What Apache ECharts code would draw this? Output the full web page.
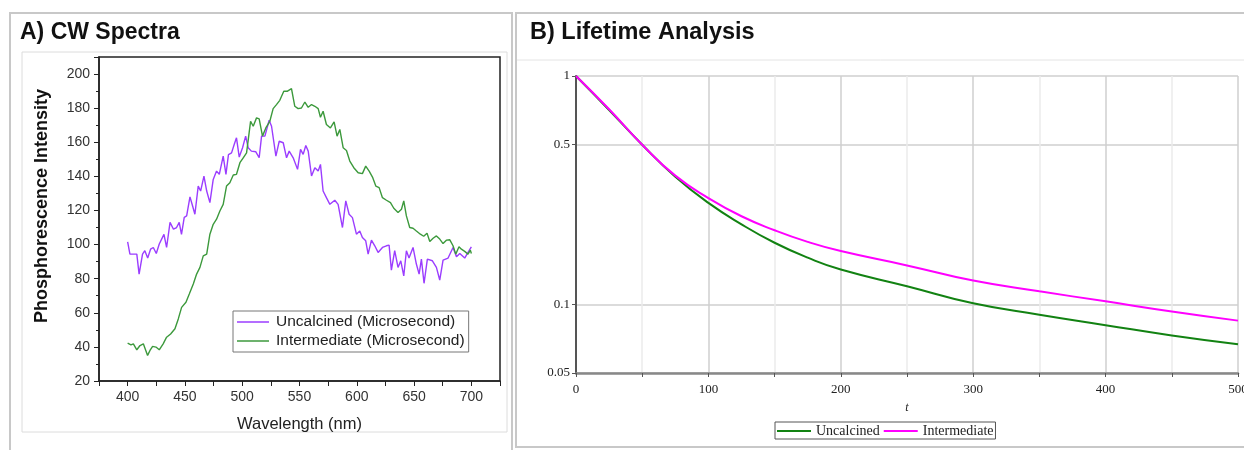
<!DOCTYPE html>
<html>
<head>
<meta charset="utf-8">
<script src="https://cdn.jsdelivr.net/npm/echarts@6/dist/echarts.min.js"></script>
<style>
html, body { margin: 0; padding: 0; background: #fff; }
#main { width: 1244px; height: 450px; }
</style>
</head>
<body>
<div id="main"></div>
<script>
// A) CW spectra - wavelength (nm) / intensity
var uncWl = [400, 402, 405, 408, 410, 413, 415, 417.5, 420, 422.4, 425, 427.6, 431.7, 434, 437, 440, 442.7, 445, 447, 449.4,
	451.5, 454.4, 456.7, 458.7, 461.6, 463.7, 466.6, 469, 471.8, 474.7, 477.6, 480, 483.4, 485.8, 488, 490.7, 493, 495, 497.4, 500.3,
	503, 505.2, 508, 511.9, 514.8, 516.9, 519.8, 523.5, 525.6, 529.4, 532.3, 535.8, 538.7, 541, 544.5, 548.3, 550.9, 553.2, 555.5, 557.6,
	560.5, 563.4, 566.3, 568.3, 570.6, 573.5, 576.5, 580.8, 583.7, 587.5, 590.4, 593.3, 596.2, 599.7, 602.6, 604.9, 607.8, 609.9, 612.8, 615.7,
	618.6, 622.4, 625.9, 628.2, 630.2, 633.1, 636, 638.4, 641, 643.3, 645.6, 649.1, 652, 654.4, 656.4, 658.7, 661.6, 666, 669.5, 672.4,
	675.3, 679.7, 684, 687, 689.9, 694.2, 697.1, 700];
var uncVal = [101.6, 94.4, 94.4, 94.4, 82.7, 94.4, 96.4, 92.1, 97.3, 98.3, 94.8, 100.3, 106, 98.3, 113, 109, 110, 113, 106, 116,
	116.8, 128, 122.6, 117.8, 134.3, 131.4, 140.2, 131.4, 124.6, 138.2, 143.1, 141.2, 151.9, 141.2, 152.8, 153.8, 158.7, 162.6, 151.3, 156.8,
	163.6, 156.8, 154.8, 154.4, 150.9, 163.6, 163.6, 172.9, 169.4, 151.9, 160.6, 159.7, 150.9, 154.8, 150.9, 144.1, 155.8, 152.9, 158.1, 154.8,
	140.2, 145.1, 143.1, 147, 131.4, 127.5, 123.6, 126, 123.6, 110, 125.6, 117.8, 115.8, 106.1, 108, 104.2, 102.2, 94.4, 102.6, 99.3,
	95.4, 98.3, 99.3, 99.7, 85, 96.4, 86.6, 90.5, 81.6, 96.4, 92.1, 98.3, 88.6, 82.7, 91.5, 77.3, 91.5, 90.5, 86.6, 79.2,
	90.9, 92.1, 98.3, 92.8, 94.8, 92.1, 95.4, 98.7];

var intWl = [400, 402.9, 405, 408, 410.8, 413.7, 417.4, 419.5, 421.8, 424.7, 427.6, 431, 434, 437.5, 441.3, 444.2, 447.1, 450.9, 453.8, 457.3,
	460.2, 463.1, 466, 469, 471.8, 474.7, 477.6, 480.5, 483.4, 486.3, 489.2, 492.2, 495, 498, 500.9, 503.8, 507.3, 509.6, 512.5, 514.8,
	517.7, 520.6, 524.1, 527, 529.9, 532.8, 536.3, 539.2, 543, 545.9, 548.8, 551.7, 554.7, 557.6, 560.5, 563.4, 566.3, 568.3, 570.6, 573.5,
	577, 580.2, 582.8, 585.2, 588.1, 591, 593.9, 597.4, 601.2, 604.9, 607.8, 610.8, 613.7, 616.6, 619.5, 622.4, 625.9, 629.4, 632.3, 636,
	639, 641, 643.3, 646.2, 649.1, 652, 655.5, 658.4, 661.3, 663.7, 666.6, 669.5, 672.4, 675.3, 678.2, 681.2, 684, 686.4, 689.2, 691.3,
	694.2, 697.1, 699.1, 700];
var intVal = [42.2, 41.2, 41.8, 38.3, 40.8, 41.8, 35, 37.9, 40.3, 39.9, 38.3, 41.8, 45.7, 47.6, 50.6, 56.4, 63.2, 66.2, 71, 76.9,
	82.7, 86.6, 93.4, 94.4, 106.1, 111.9, 114.9, 119.7, 123.6, 134.3, 136.3, 140.8, 141.2, 148, 150.9, 153.8, 172.3, 169.4, 174.3, 173.7,
	163.6, 168.4, 172.3, 179.7, 182.1, 184.6, 189.9, 189.9, 191.4, 181.1, 179.7, 180.1, 183.6, 180.5, 182.1, 181.1, 179.7, 174.7, 178.2, 170.4,
	168.4, 171.9, 163.6, 167.5, 156.8, 155.2, 149, 145.1, 142.1, 141.6, 146, 143.1, 139.6, 134.3, 133.4, 127.5, 126, 124.6, 121.3, 118.8,
	120.7, 125.6, 116.8, 110, 109.6, 108, 106.1, 104.9, 106.7, 101.8, 103.7, 105.1, 103.2, 100.6, 102.6, 102.8, 99.3, 94.4, 98.7, 97.3,
	96, 94.4, 96.7, 94.8];

// B) lifetime decay curves
var tVals = [0, 25, 50, 75, 100, 125, 150, 175, 200, 250, 300, 350, 400, 450, 500];
var uncDecay = [1, 0.71, 0.5, 0.362, 0.278, 0.224, 0.186, 0.16, 0.142, 0.12, 0.101, 0.09, 0.081, 0.073, 0.0668];
var intDecay = [1, 0.715, 0.5, 0.366, 0.292, 0.243, 0.211, 0.1876, 0.171, 0.148, 0.127, 0.114, 0.103, 0.093, 0.0848];
var logTicks = [0.05, 0.1, 0.5, 1];

function pairs(xs, ys) {
	return xs.map(function (x, i) { return [x, ys[i]]; });
}

var chart = echarts.init(document.getElementById('main'));
var serif = '"Liberation Serif", "Times New Roman", serif';
var sans = '"Liberation Sans", Arial, sans-serif';

var option = {
	animation: false,
	backgroundColor: '#fff',
	graphic: [
		{ type: 'rect', shape: { x: 10, y: 13, width: 502, height: 450 }, style: { fill: 'none', stroke: '#c8c8c8', lineWidth: 2 }, z: -10 },
		{ type: 'rect', shape: { x: 22, y: 52, width: 485, height: 380 }, style: { fill: 'none', stroke: '#dcdcdc', lineWidth: 1 }, z: -10 },
		{ type: 'text', left: 20, top: 21, style: { text: 'A) CW Spectra', font: 'bold 23px ' + sans, fill: '#111' } },
		{ type: 'rect', shape: { x: 516, y: 13, width: 740, height: 434 }, style: { fill: 'none', stroke: '#c8c8c8', lineWidth: 2 }, z: -10 },
		{ type: 'line', shape: { x1: 517, y1: 60, x2: 1244, y2: 60 }, style: { stroke: '#e4e4e4', lineWidth: 1 }, z: -10 },
		{ type: 'text', left: 530, top: 21, style: { text: 'B) Lifetime Analysis', font: 'bold 23.5px ' + sans, fill: '#111' } }
	],
	legend: [{
		left: 233, top: 311,
		orient: 'vertical',
		icon: 'rect',
		itemWidth: 32, itemHeight: 1.5, itemGap: 3,
		padding: [3, 4, 3, 4],
		borderColor: '#777', borderWidth: 1,
		textStyle: { fontFamily: sans, fontSize: 15.5, color: '#222', padding: [0, 0, 0, 2] },
		data: ['Uncalcined (Microsecond)', 'Intermediate (Microsecond)']
	}, {
		left: 775, top: 422,
		orient: 'horizontal',
		icon: 'rect',
		itemWidth: 34, itemHeight: 2, itemGap: 4,
		padding: [2, 2, 1, 2],
		borderColor: '#555', borderWidth: 1,
		textStyle: { fontFamily: serif, fontSize: 14, color: '#222' },
		data: ['Uncalcined', 'Intermediate']
	}],
	grid: [
		{ left: 99, top: 57, width: 401, height: 324, show: true, borderColor: '#222', borderWidth: 1.5, outerBoundsMode: 'none' },
		{ left: 576, top: 76, width: 662, height: 297, outerBoundsMode: 'none' }
	],
	xAxis: [{
		gridIndex: 0, type: 'value', min: 375, max: 725, interval: 25,
		name: 'Wavelength (nm)', nameLocation: 'middle', nameGap: 35,
		nameTextStyle: { fontFamily: sans, fontSize: 16.5, color: '#222' },
		axisLine: { lineStyle: { color: '#222', width: 1.5 } },
		axisTick: { show: true, inside: false, length: 5, lineStyle: { color: '#222' } },
		axisLabel: { fontFamily: sans, fontSize: 14, color: '#333', margin: 9, showMinLabel: true, showMaxLabel: true,
			formatter: function (v) { return (v >= 400 && v <= 700 && v % 50 === 0) ? String(v) : ''; } },
		splitLine: { show: false }
	}, {
		gridIndex: 1, type: 'value', min: 0, max: 500, interval: 100,
		name: 't', nameLocation: 'middle', nameGap: 29,
		nameTextStyle: { fontFamily: serif, fontSize: 12, fontStyle: 'italic', color: '#222' },
		axisLine: { lineStyle: { color: '#888', width: 2.5 } },
		axisTick: { show: true, length: 4, lineStyle: { color: '#555' } },
		minorTick: { show: true, splitNumber: 2, length: 4, lineStyle: { color: '#555' } },
		axisLabel: { fontFamily: serif, fontSize: 13, color: '#222', margin: 10 },
		splitLine: { show: true, lineStyle: { color: '#cfcfcf', width: 1.5 } },
		minorSplitLine: { show: true, lineStyle: { color: '#ececec', width: 1.5 } }
	}],
	yAxis: [{
		gridIndex: 0, type: 'value', min: 20, max: 210, interval: 20,
		name: 'Phosphorescence Intensity', nameLocation: 'middle', nameGap: 48,
		nameTextStyle: { fontFamily: sans, fontSize: 18, fontWeight: 'bold', color: '#111', padding: [0, 0, 0, 26] },
		axisLine: { lineStyle: { color: '#222', width: 1.5 } },
		axisTick: { show: true, length: 5, lineStyle: { color: '#222' } },
		minorTick: { show: true, splitNumber: 2, length: 3, lineStyle: { color: '#222' } },
		axisLabel: { fontFamily: sans, fontSize: 14, color: '#333', margin: 9,
			formatter: function (v) { return v <= 200 ? v : ''; } },
		splitLine: { show: false }
	}, {
		gridIndex: 1, type: 'log', logBase: 10, min: 0.05, max: 1,
		axisLine: { lineStyle: { color: '#555', width: 2 } },
		axisTick: { show: true, length: 4, customValues: logTicks, lineStyle: { color: '#555' } },
		axisLabel: { fontFamily: serif, fontSize: 13, color: '#222', margin: 6, customValues: logTicks },
		splitLine: { show: true, lineStyle: { color: '#cfcfcf', width: 1.5 } }
	}],
	series: [{
		name: 'Uncalcined (Microsecond)', type: 'line', xAxisIndex: 0, yAxisIndex: 0,
		data: pairs(uncWl, uncVal), showSymbol: false, symbol: 'none',
		itemStyle: { color: '#9b3dff' }, lineStyle: { color: '#9b3dff', width: 1.4 }
	}, {
		name: 'Intermediate (Microsecond)', type: 'line', xAxisIndex: 0, yAxisIndex: 0,
		data: pairs(intWl, intVal), showSymbol: false, symbol: 'none',
		itemStyle: { color: '#3c993c' }, lineStyle: { color: '#3c993c', width: 1.4 }
	}, {
		name: 'Uncalcined', type: 'line', xAxisIndex: 1, yAxisIndex: 1,
		data: pairs(tVals, uncDecay), showSymbol: false, symbol: 'none', smooth: true,
		itemStyle: { color: '#128212' }, lineStyle: { color: '#128212', width: 2 }
	}, {
		name: 'Intermediate', type: 'line', xAxisIndex: 1, yAxisIndex: 1,
		data: pairs(tVals, intDecay), showSymbol: false, symbol: 'none', smooth: true,
		itemStyle: { color: '#ff00ff' }, lineStyle: { color: '#ff00ff', width: 2 }
	}]
};
chart.setOption(option);
</script>
</body>
</html>
